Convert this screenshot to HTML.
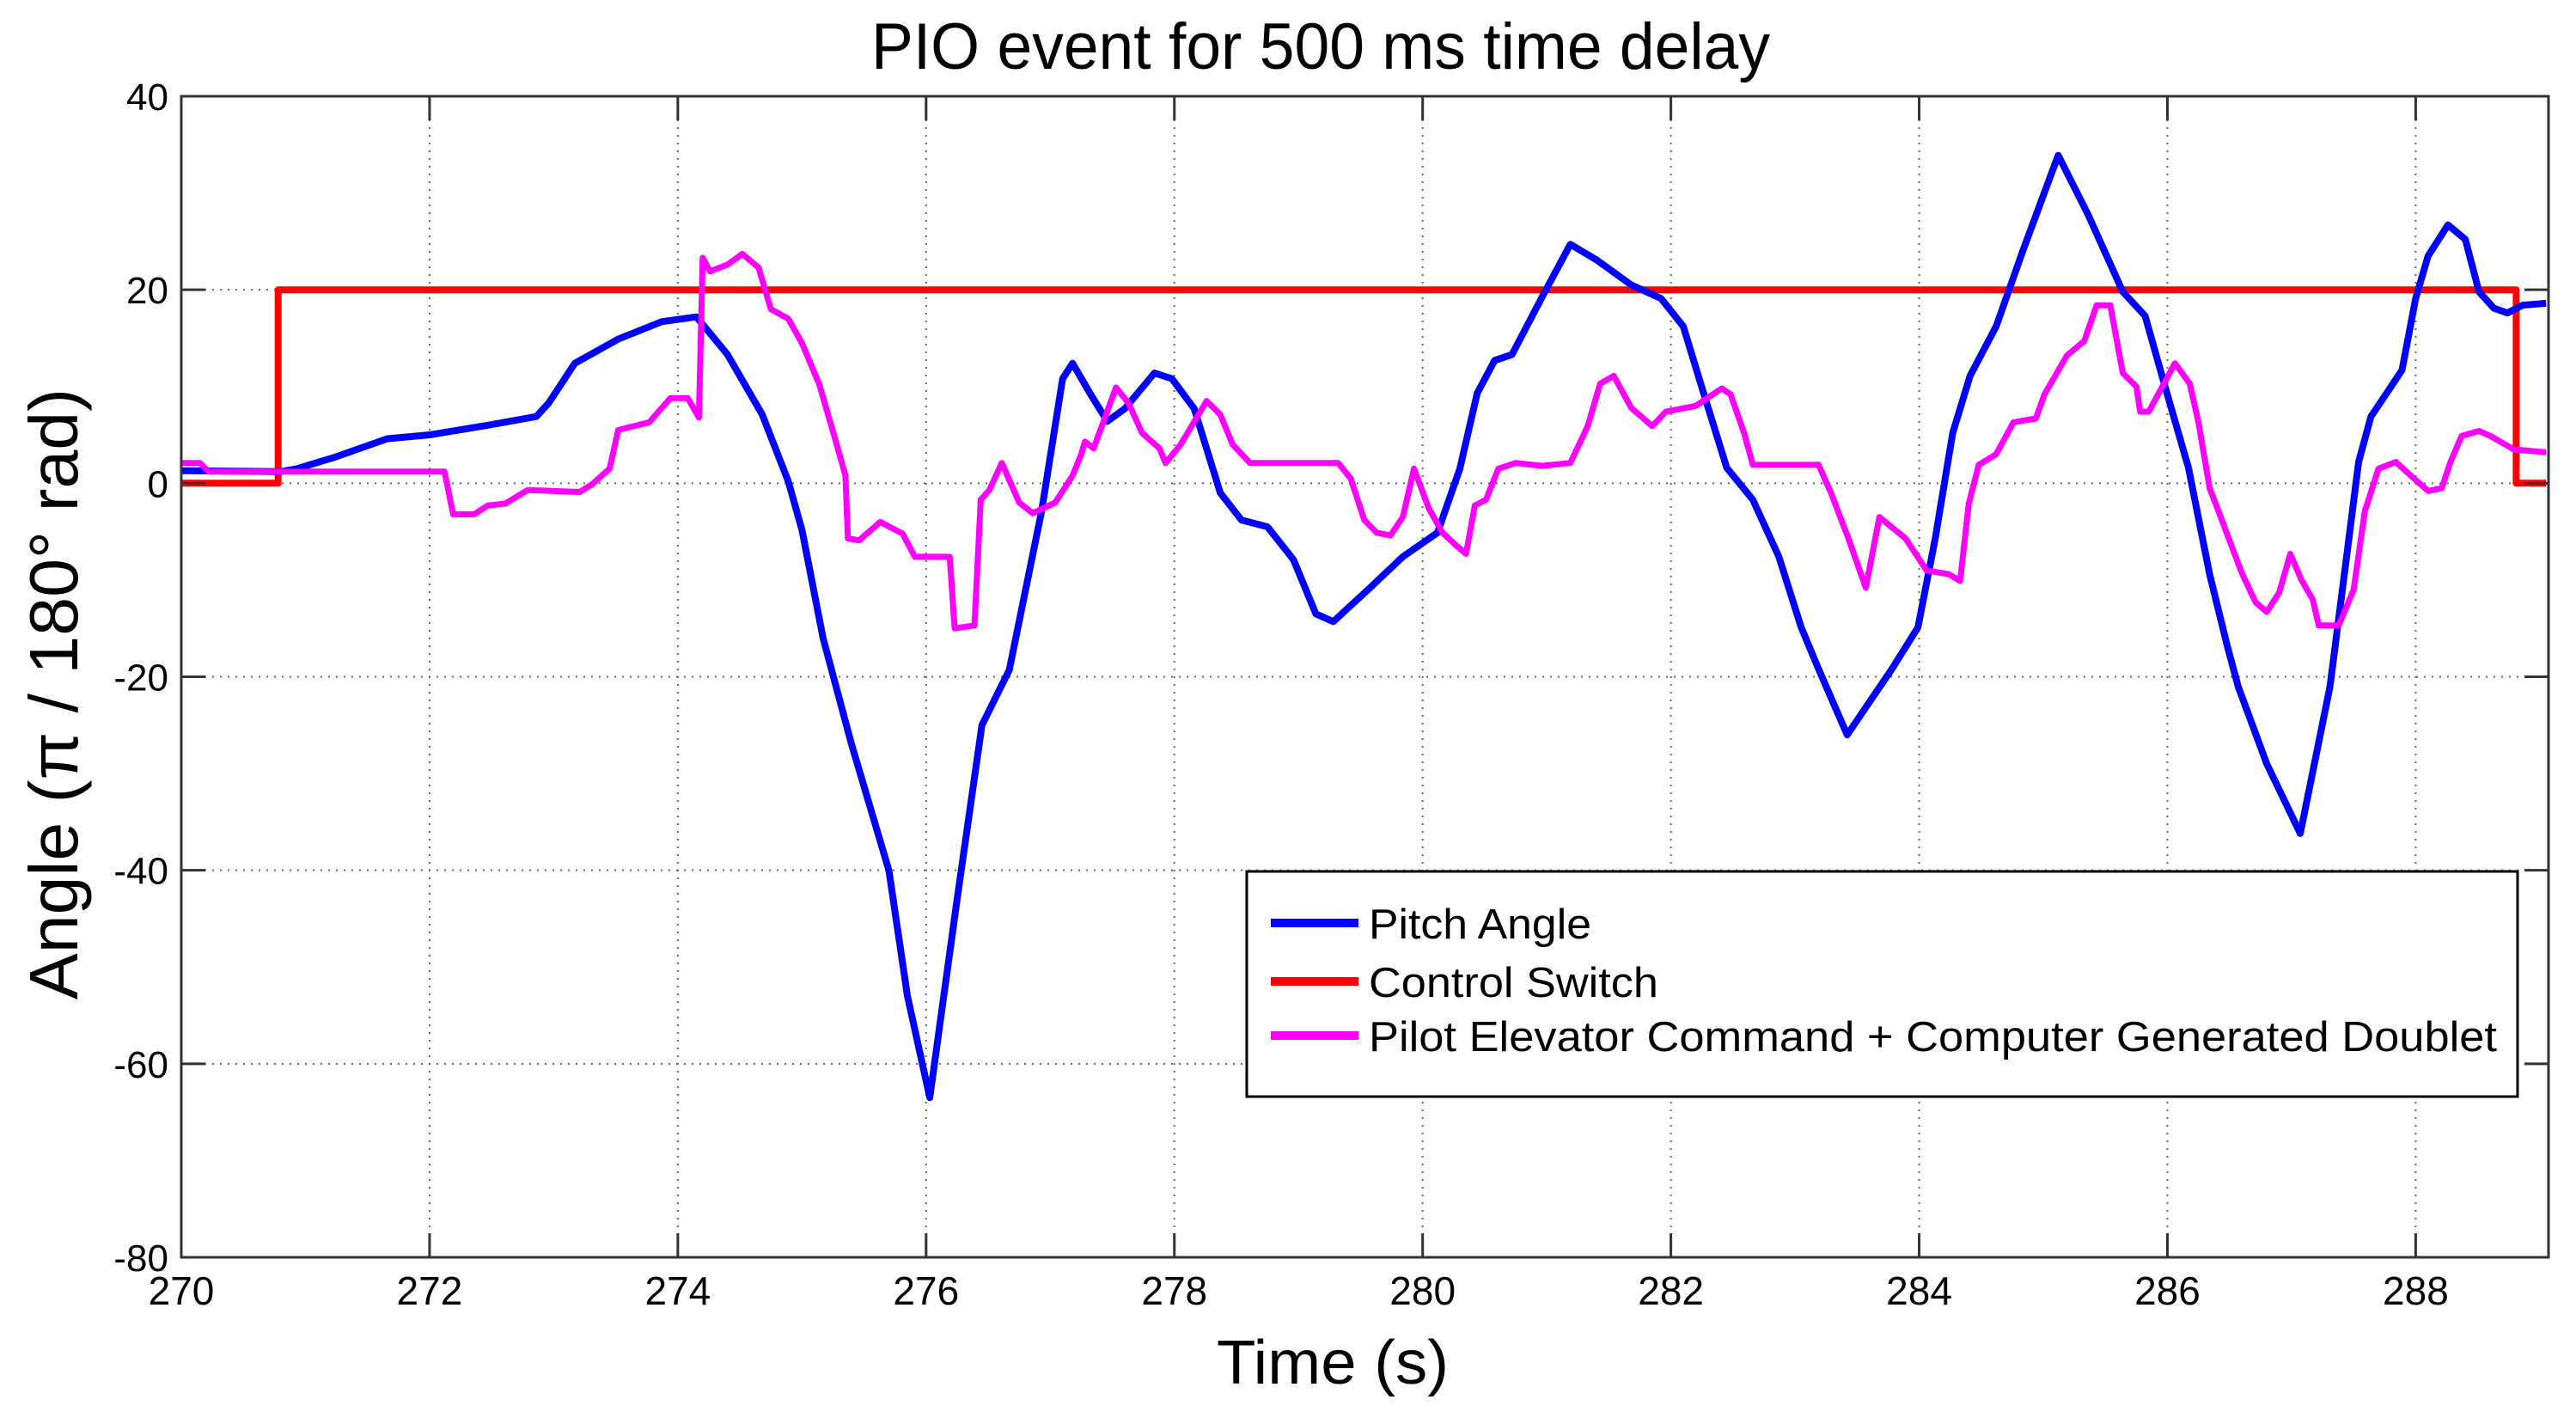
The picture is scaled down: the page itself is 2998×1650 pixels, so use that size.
<!DOCTYPE html>
<html><head><meta charset="utf-8"><style>
html,body{margin:0;padding:0;background:#fff}
svg{display:block}
text{font-family:"Liberation Sans",Arial,sans-serif;fill:#000}
</style></head><body>
<svg id="chart" width="2998" height="1650" viewBox="0 0 2998 1650" xmlns="http://www.w3.org/2000/svg">
<rect x="0" y="0" width="2998" height="1650" fill="#fff"/>
<text x="1014" y="80" font-size="76" textLength="1046" lengthAdjust="spacingAndGlyphs">PIO event for 500 ms time delay</text>
<g id="grid"></g>
<g id="series"></g>
<g id="axes"></g>
<text x="1416" y="1610" font-size="72" textLength="270" lengthAdjust="spacingAndGlyphs">Time (s)</text>
<text transform="translate(90,1163) rotate(-90)" x="0" y="0" font-size="80" textLength="711" lengthAdjust="spacingAndGlyphs">Angle (π / 180° rad)</text>
<g>
<rect x="1451" y="1014" width="1479" height="262" fill="#fff" stroke="#000" stroke-width="3"/>
<line x1="1479" y1="1074" x2="1581" y2="1074" stroke="#0000ff" stroke-width="10"/>
<text x="1593" y="1092" font-size="49" textLength="259" lengthAdjust="spacingAndGlyphs">Pitch Angle</text>
<line x1="1479" y1="1142" x2="1581" y2="1142" stroke="#ff0000" stroke-width="10"/>
<text x="1593" y="1160" font-size="49" textLength="337" lengthAdjust="spacingAndGlyphs">Control Switch</text>
<line x1="1479" y1="1205" x2="1581" y2="1205" stroke="#ff00ff" stroke-width="10"/>
<text x="1593" y="1223" font-size="49" textLength="1313" lengthAdjust="spacingAndGlyphs">Pilot Elevator Command + Computer Generated Doublet</text>
</g>
</svg>
<script>
const xTicks = [270,272,274,276,278,280,282,284,286,288];
const yTicks = [40,20,0,-20,-40,-60,-80];
const pitchT = [270,270.8,270.93,271.24,271.66,272,272.47,272.86,272.96,273.17,273.52,273.87,274.15,274.4,274.68,274.89,275.0,275.17,275.4,275.7,275.85,276.03,276.25,276.45,276.67,276.93,277.1,277.18,277.32,277.46,277.6,277.84,277.98,278.16,278.37,278.54,278.75,278.96,279.14,279.28,279.56,279.84,280.12,280.3,280.44,280.58,280.72,280.96,281.19,281.4,281.68,281.92,282.1,282.24,282.45,282.66,282.87,283.05,283.19,283.42,283.78,283.99,284.13,284.27,284.41,284.62,284.84,285.12,285.36,285.64,285.82,285.99,286.17,286.34,286.48,286.57,286.8,287.07,287.31,287.45,287.54,287.64,287.75,287.89,288.0,288.1,288.26,288.4,288.51,288.63,288.74,288.86,289.05];
const pitchV = [1.3,1.2,1.5,2.7,4.6,5.0,6.0,6.9,8.3,12.4,14.9,16.7,17.2,13.3,7.1,0.2,-4.8,-16,-27,-40,-53,-63.5,-43,-25,-19.3,-2.9,10.8,12.4,9.3,6.4,7.7,11.4,10.8,7.7,-1.0,-3.8,-4.5,-7.9,-13.5,-14.3,-11.0,-7.6,-5.1,1.5,9.3,12.7,13.3,19.2,24.7,23.1,20.5,19.1,16.2,10.3,1.6,-1.7,-7.6,-14.9,-19.2,-26,-19.2,-14.9,-5.7,5.2,11.1,16.2,24.2,33.9,27.8,19.8,17.3,9.6,1.6,-9.4,-16.7,-21,-29,-36.2,-21,-6.9,2.2,6.9,9.0,11.7,19.1,23.5,26.7,25.2,19.8,18.1,17.6,18.4,18.6];
const switchT = [270,270.78,270.78,288.81,288.81,289.05];
const switchV = [0,0,20,20,0,0];
const elevT = [270,270.15,270.22,272.12,272.19,272.36,272.47,272.61,272.79,273.21,273.31,273.45,273.52,273.77,273.94,274.08,274.17,274.2,274.26,274.4,274.52,274.65,274.75,274.89,275.0,275.14,275.28,275.35,275.37,275.46,275.63,275.81,275.91,276.19,276.23,276.39,276.44,276.51,276.61,276.75,276.86,277.04,277.18,277.25,277.28,277.35,277.53,277.63,277.74,277.88,277.93,278.05,278.26,278.37,278.47,278.61,279.32,279.42,279.53,279.63,279.74,279.84,279.93,280.05,280.16,280.26,280.35,280.42,280.51,280.61,280.75,280.96,281.19,281.33,281.43,281.54,281.68,281.85,281.96,282.2,282.41,282.48,282.59,282.66,283.19,283.29,283.43,283.57,283.68,283.89,284.06,284.24,284.33,284.4,284.48,284.62,284.76,284.94,285.01,285.19,285.33,285.43,285.54,285.64,285.75,285.78,285.85,286.06,286.18,286.25,286.34,286.43,286.5,286.6,286.71,286.8,286.9,286.99,287.08,287.17,287.22,287.38,287.5,287.59,287.7,287.84,287.96,288.1,288.21,288.28,288.37,288.51,288.6,288.79,289.05];
const elevV = [2.1,2.1,1.2,1.2,-3.2,-3.2,-2.3,-2.1,-0.7,-0.9,-0.1,1.5,5.5,6.3,8.8,8.8,6.8,23.3,21.9,22.6,23.7,22.3,18.0,17.0,14.5,10.2,4.0,0.8,-5.7,-5.9,-4.0,-5.2,-7.6,-7.6,-15.0,-14.7,-1.7,-0.7,2.1,-2.0,-3.1,-2.0,0.8,3.0,4.3,3.6,9.9,8.3,5.2,3.6,2.1,4.0,8.5,7.1,4.0,2.1,2.1,0.5,-3.8,-5.1,-5.4,-3.5,1.5,-2.6,-5.1,-6.3,-7.3,-2.3,-1.7,1.5,2.1,1.8,2.1,5.9,10.3,11.1,7.8,5.9,7.4,8.0,9.8,9.2,5.2,1.9,1.9,-1.0,-5.7,-10.8,-3.5,-5.7,-9.0,-9.4,-10.1,-2.1,1.9,3.0,6.3,6.7,9.2,13.2,14.7,18.4,18.4,11.4,10.0,7.4,7.4,12.4,10.3,6.3,-0.5,-3.5,-5.9,-9.3,-12.3,-13.3,-11.3,-7.3,-10.0,-12.0,-14.7,-14.7,-11.0,-2.9,1.5,2.2,0.8,-0.8,-0.5,2.2,4.9,5.4,4.9,3.5,3.2];

const X0=211, X1=2966, TMIN=270, TMAX=289.07, Y0=112, Y1=1463, VMAX=40, VMIN=-80;
const NS='http://www.w3.org/2000/svg';
function xs(t){return X0+(t-TMIN)/(TMAX-TMIN)*(X1-X0);}
function ys(v){return Y0+(VMAX-v)/(VMAX-VMIN)*(Y1-Y0);}
function mk(tag,attrs,parent){const e=document.createElementNS(NS,tag);for(const k in attrs)e.setAttribute(k,attrs[k]);parent.appendChild(e);return e;}
const grid=document.getElementById('grid'), axes=document.getElementById('axes'), series=document.getElementById('series');
xTicks.forEach(t=>{
  const x=xs(t);
  if(t!==TMIN){const g=mk('line',{x1:x,y1:Y0,x2:x,y2:Y1,stroke:'#666','stroke-width':2,'stroke-dasharray':'2 7'},grid);
  
  }
  const tk=mk('path',{d:`M${x},${Y1}v-28M${x},${Y0}v28`,stroke:'#333','stroke-width':3},axes);
  
  
  const lb=mk('text',{x:x,y:1518,'font-size':46,'text-anchor':'middle'},axes);
  lb.textContent=t;
  
  
});
yTicks.forEach(v=>{
  const y=ys(v);
  if(v!==VMAX&&v!==VMIN){const g=mk('line',{x1:X0,y1:y,x2:X1,y2:y,stroke:'#666','stroke-width':2,'stroke-dasharray':'2 7'},grid);
  
  }
  const tk=mk('path',{d:`M${X0},${y}h28M${X1},${y}h-28`,stroke:'#333','stroke-width':3},axes);
  
  
  const lb=mk('text',{x:196,y:y+16,'font-size':44,'text-anchor':'end'},axes);
  lb.textContent=v;
  
  
});
const frame=mk('rect',{x:X0,y:Y0,width:X1-X0,height:Y1-Y0,fill:'none',stroke:'#333','stroke-width':3},axes);


function line(T,V,color,w){
  const pts=T.map((t,i)=>xs(t).toFixed(1)+','+ys(V[i]).toFixed(1)).join(' ');
  return mk('polyline',{points:pts,fill:'none',stroke:color,'stroke-width':w,'stroke-linejoin':'round','stroke-linecap':'butt'},series);
}
const s1=line(switchT,switchV,'#ff0000',8);


const s2=line(pitchT,pitchV,'#0000ff',8);


const s3=line(elevT,elevV,'#ff00ff',7);


</script>
</body></html>
